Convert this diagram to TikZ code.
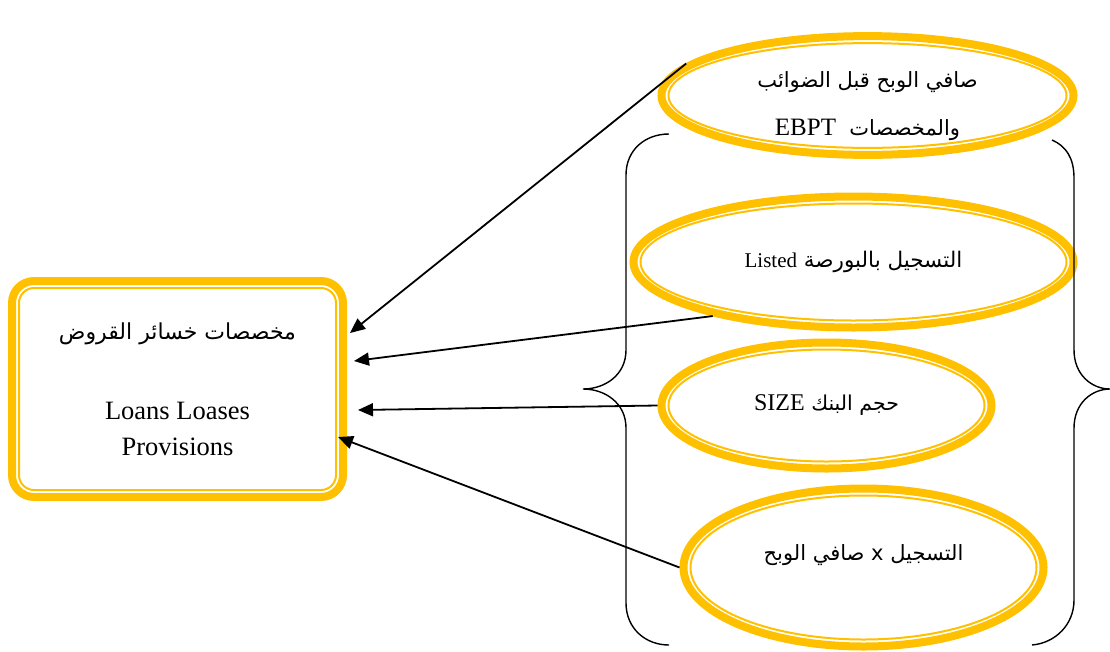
\documentclass[tikz,border=0pt]{standalone}
\usepackage{fontspec}
\setmainfont{Liberation Serif}
\newfontfamily\arabicfont[Script=Arabic]{DejaVu Sans}
\TeXXeTstate=1
\usepackage{tikz}
\usetikzlibrary{arrows.meta,shapes,calc}
\definecolor{gold}{RGB}{255,192,0}
\newcommand{\artext}[1]{{\arabicfont\beginR #1\endR}}
\tikzstyle{factor}=[ellipse,draw=gold,line width=8pt,inner sep=0pt,align=center,
    font=\fontsize{21}{36}\selectfont,
    path picture={\draw[gold,line width=2pt] let \p1=(path picture bounding box.north east),
        \p2=(path picture bounding box.center) in (\p2) ellipse ({\x1-\x2-7pt} and {\y1-\y2-7pt});}]
\tikzstyle{provision}=[rectangle,rounded corners=22pt,draw=gold,line width=8pt,inner sep=0pt,
    minimum width=331pt,minimum height=216pt,align=center,font=\fontsize{26.5}{36}\selectfont,
    path picture={\draw[gold,line width=2pt,rounded corners=15pt]
        ([shift={(7pt,7pt)}]path picture bounding box.south west) rectangle
        ([shift={(-7pt,-7pt)}]path picture bounding box.north east);}]
\tikzstyle{edge}=[draw,line width=1.8pt,-{Triangle[length=15pt,width=13pt]}]
\tikzstyle{brace}=[draw,line width=1.4pt]

\begin{document}
\begin{tikzpicture}[x=1pt,y=-1pt]
    \useasboundingbox (0,0) rectangle (1110,651);
    % the dependent variable
    \node[provision] (llp) at (177.5,389)
        {\fontsize{22}{36}\selectfont\artext{مخصصات خسائر القروض}\\[44pt] Loans Loases\\ Provisions};

    % the explanatory variables
    \node[factor,minimum width=412pt,minimum height=118pt] (ebpt) at (867.5,95.5)
        {\raisebox{-9pt}[\height][\depth]{\begin{tabular}{@{}c@{}}\artext{صافي الوبح قبل الضوائب}\\[12pt]
         \artext{والمخصصات\ \ {\rmfamily\fontsize{25}{36}\selectfont EBPT}}\end{tabular}}};
    \node[factor,minimum width=440pt,minimum height=131pt] (listed) at (853.5,262)
        {\fontsize{21.5}{36}\selectfont\artext{التسجيل بالبورصة {\rmfamily\fontsize{21}{36}\selectfont Listed}}};
    \node[factor,minimum width=330pt,minimum height=126pt] (size) at (826.5,405.5)
        {\fontsize{20.5}{36}\selectfont\artext{حجم البنك {\rmfamily\fontsize{24}{36}\selectfont SIZE}}};
    \node[factor,minimum width=360pt,minimum height=158pt] (inter) at (863.5,567.5)
        {\raisebox{12pt}[\height][\depth]{\artext{التسجيل x صافي الوبح}}};

    % braces round the group
    \draw[brace] (669,134) .. controls (645,134) and (626,150) .. (626,175) -- (626,350)
        .. controls (626,375) and (605,389) .. (583,389) .. controls (605,389) and (626,403) .. (626,428)
        -- (626,603) .. controls (626,628) and (645,645) .. (669,645);
    \draw[brace] (1052,140) .. controls (1066,146) and (1074,158) .. (1074,178) -- (1074,350)
        .. controls (1074,375) and (1092,389) .. (1110,389) .. controls (1092,389) and (1074,403) .. (1074,428)
        -- (1074,600) .. controls (1074,625) and (1055,643) .. (1032,645);

    % arrows into the box
    \foreach \source/\dx/\dy in {ebpt.170/3/56, listed.201/7/28, size.west/11/-21, inter.west/-9/-48}
        \path[edge] (\source) -- ([xshift=\dx pt,yshift=\dy pt]llp.east);
\end{tikzpicture}
\end{document}
